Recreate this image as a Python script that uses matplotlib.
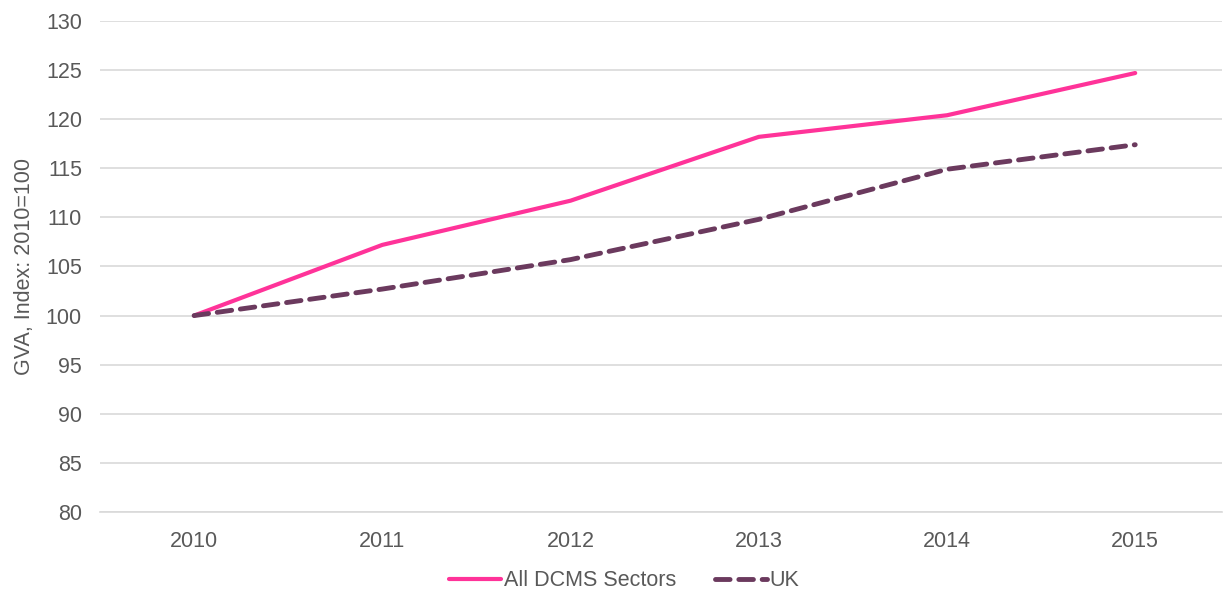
import matplotlib.pyplot as plt

plt.rcParams['font.family'] = ['Liberation Sans', 'DejaVu Sans']

years = ['2010', '2011', '2012', '2013', '2014', '2015']
dcms = [100, 107.2, 111.7, 118.2, 120.4, 124.7]
uk = [100, 102.7, 105.7, 109.8, 114.9, 117.4]

fig = plt.figure(figsize=(12.24, 5.91), dpi=100)
ax = fig.add_axes([0.0817, 0.1337, 0.9165, 0.8308])

x = range(len(years))
ax.plot(x, dcms, color='#FF3399', lw=3, label='All DCMS Sectors', solid_capstyle='round')
ax.plot(x, uk, color='#6B3A5E', lw=3.5, ls=(0, (3, 1.8)), label='UK', dash_capstyle='round')

ax.set_xlim(-0.5, 5.46)
ax.set_ylim(80, 130)
ax.set_yticks(range(80, 131, 5))
ax.set_xticks(list(x))
ax.set_xticklabels(years)
ax.grid(axis='y', color='#D9D9D9', lw=1.2)
ax.set_axisbelow(True)
for s in ['top', 'right', 'left']:
    ax.spines[s].set_visible(False)
ax.spines['bottom'].set_color('#D9D9D9')
ax.spines['bottom'].set_linewidth(1.2)
ax.tick_params(length=0, labelsize=15.5, colors='#595959')
ax.tick_params(axis='x', pad=14)
ax.tick_params(axis='y', pad=13)
ax.set_ylabel('GVA, Index: 2010=100', fontsize=15.5, color='#595959', labelpad=8)

fig.legend(loc='center', bbox_to_anchor=(0.51, 0.017), ncol=2, frameon=False,
           fontsize=15.5, labelcolor='#595959', handlelength=2.4, handletextpad=0.15,
           columnspacing=1.8)

fig.savefig('out.png', dpi=100)
